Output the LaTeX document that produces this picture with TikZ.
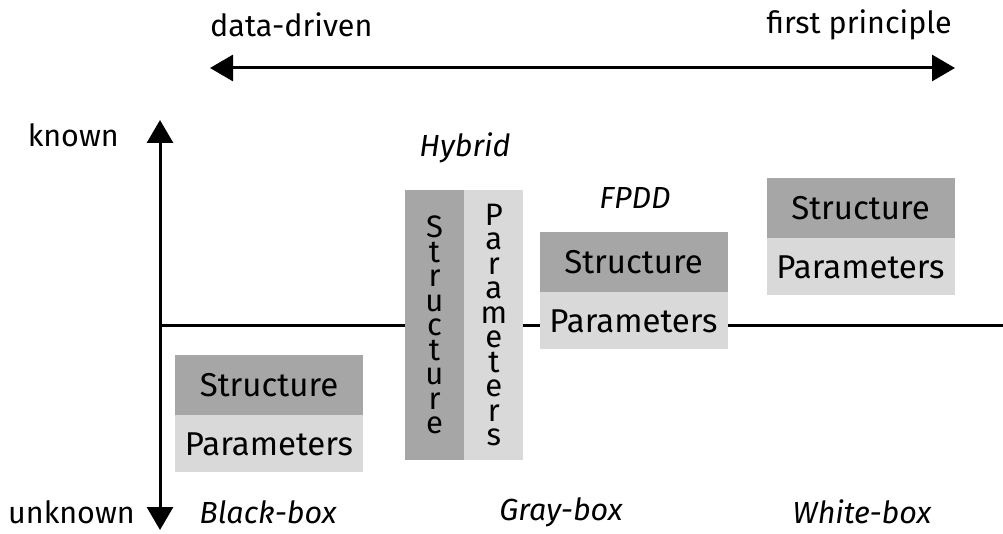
\documentclass[tikz,border=0pt]{standalone}
\usepackage{fontspec}
\setmainfont{Fira Sans}
\usetikzlibrary{arrows.meta}

\definecolor{structgray}{HTML}{A6A6A6}
\definecolor{paramgray}{HTML}{D9D9D9}

\tikzset{
  label/.style={font=\fontsize{30.5}{32}\selectfont, inner sep=0pt},
  kind/.style={font=\fontsize{30.5}{32}\selectfont\itshape, inner sep=0pt},
  structbox/.style={fill=structgray, minimum width=188pt, minimum height=60pt,
    inner sep=0pt, font=\fontsize{33}{35}\selectfont},
  parambox/.style={fill=paramgray, minimum width=188pt, minimum height=57pt,
    inner sep=0pt, font=\fontsize{33}{35}\selectfont},
  column/.style={minimum width=59pt, minimum height=270pt, inner sep=0pt,
    align=center, font=\fontsize{31}{24.5}\selectfont},
  axis/.style={line width=3pt},
  bothway/.style={axis, {Triangle[length=23pt,width=26pt]}-{Triangle[length=23pt,width=26pt]}},
}

\begin{document}
\begin{tikzpicture}[x=1pt, y=-1pt]
  \useasboundingbox (0,0) rectangle (1003,534);

  % top scale
  \node[label, anchor=west] (dd) at (210,25) {data-driven};
  \node[label, anchor=east] (fp) at (952,25) {first principle};
  \coordinate (left) at (210,68);
  \coordinate (right) at (955,68);
  \draw[bothway] (left) -- (right);

  % axes
  \coordinate (top) at (160,120);
  \coordinate (bottom) at (160,530);
  \coordinate (origin) at (160,325);
  \coordinate (end) at (1003,325);
  \draw[bothway] (top) -- (bottom);
  \draw[axis] (origin) -- (end);
  \node[label, anchor=east] (known) at (119,135) {known};
  \node[label, anchor=east] (unknown) at (135,512) {unknown};

  % black-box
  \node[structbox] (bs) at (269,385) {Structure};
  \node[parambox, anchor=north] (bp) at (bs.south) {Parameters};
  \node[kind] (black) at (268,512) {Black-box};

  % gray-box: hybrid
  \node[kind] (hybrid) at (465,148) {Hybrid};
  \node[column, fill=structgray] (hs) at (434.5,325) {S\\t\\r\\u\\c\\t\\u\\r\\e};
  \node[column, fill=paramgray, anchor=west] (hp) at (hs.east) {P\\a\\r\\a\\m\\e\\t\\e\\r\\s};

  % gray-box: FPDD
  \node[kind] (fpdd) at (635,198) {FPDD};
  \node[structbox] (fs) at (633.5,262) {Structure};
  \node[parambox, anchor=north] (fpar) at (fs.south) {Parameters};
  \node[kind] (gray) at (561,512) {Gray-box};

  % white-box
  \node[structbox] (ws) at (860.5,208) {Structure};
  \node[parambox, anchor=north] (wp) at (ws.south) {Parameters};
  \node[kind] (white) at (862,512) {White-box};
\end{tikzpicture}
\end{document}
